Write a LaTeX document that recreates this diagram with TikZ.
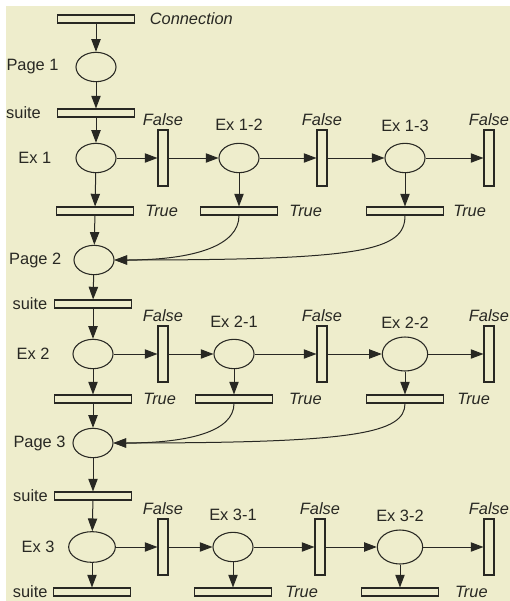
\documentclass[tikz,border=0pt]{standalone}
\usepackage{fontspec}
\setmainfont{Liberation Sans}
\usetikzlibrary{positioning, arrows.meta, shapes}
\definecolor{paper}{RGB}{238,237,204}
\definecolor{ink}{RGB}{40,40,35}

\begin{document}
\begin{tikzpicture}[x=0.75pt, y=-0.75pt,
    font=\fontsize{12.3}{14}\selectfont,
    every label/.style={inner sep=0pt, text=ink},
    tag/.style={font=\fontsize{12.3}{14}\selectfont\itshape},
    place/.style={ellipse, draw=ink, line width=0.8pt, minimum width=30pt, minimum height=22pt, inner sep=0pt},
    bigplace/.style={place, minimum width=34pt, minimum height=25.5pt},
    hbar/.style={rectangle, draw=ink, fill=paper, line width=0.8pt, minimum width=57.5pt, minimum height=6pt, inner sep=0pt},
    vbar/.style={rectangle, draw=ink, fill=paper, line width=0.8pt, minimum width=7.5pt, minimum height=42pt, inner sep=0pt},
    falsebar/.style={vbar, label={[tag, label distance=2.5pt]above:False}},
    truebar/.style={hbar, label={[tag, label distance=#1]right:True}},
    truebar/.default=8.5pt,
    suitebar/.style={hbar, label={[label distance=#1]left:suite}},
    suitebar/.default=4.5pt,
    arc/.style={draw=ink, line width=0.75pt, -{Triangle[length=9.5pt, width=7pt]}}]

    % paper
    \fill[white] (0,0) rectangle (510,601);
    \fill[paper] (6,6) rectangle (510,601);
    \useasboundingbox (0,0) rectangle (510,601);

    % connection and first page
    \node[hbar, label={[tag, label distance=11pt]right:Connection}] (conn) at (96,19) {};
    \node[place, label={[label distance=12.5pt]left:Page 1}] (page1) at (96,67) {};
    \node[suitebar=12pt] (suite1) at (96,113) {};

    % exercise 1
    \node[place, label={[label distance=18pt]left:Ex 1}] (ex1) at (96,158) {};
    \node[falsebar] (f11) at (163,158) {};
    \node[place, label={[label distance=9pt]above:Ex 1-2}] (ex12) at (239,158) {};
    \node[falsebar] (f12) at (322,158) {};
    \node[place, label={[label distance=8pt]above:Ex 1-3}] (ex13) at (405,158) {};
    \node[falsebar] (f13) at (489,158) {};
    \node[truebar] (t11) at (95,211) {};
    \node[truebar] (t12) at (239,211) {};
    \node[truebar=7pt] (t13) at (405,211) {};
    \node[place, label={[label distance=9pt]left:Page 2}] (page2) at (94,260) {};

    % exercise 2
    \node[suitebar=5pt] (suite2) at (93,304) {};
    \node[place, label={[label distance=17pt]left:Ex 2}] (ex2) at (93,354) {};
    \node[falsebar] (f21) at (163,354) {};
    \node[place, label={[label distance=8pt]above:Ex 2-1}] (ex21) at (234,354) {};
    \node[falsebar] (f22) at (322,354) {};
    \node[bigplace, label={[label distance=6pt]above:Ex 2-2}] (ex22) at (405,354) {};
    \node[falsebar] (f23) at (489,354) {};
    \node[truebar] (t21) at (93,399) {};
    \node[truebar=12pt] (t22) at (234,399) {};
    \node[truebar=10pt] (t23) at (405,399) {};
    \node[place, label={[label distance=5pt]left:Page 3}] (page3) at (93,443) {};

    % exercise 3
    \node[suitebar] (suite3) at (93,496) {};
    \node[place, minimum width=35pt, minimum height=23pt, label={[label distance=10pt]left:Ex 3}] (ex3) at (92,547) {};
    \node[falsebar] (f31) at (163,547) {};
    \node[place, label={[label distance=8pt]above:Ex 3-1}] (ex31) at (233,547) {};
    \node[falsebar] (f32) at (320,547) {};
    \node[bigplace, label={[label distance=6pt]above:Ex 3-2}] (ex32) at (400,547) {};
    \node[falsebar] (f33) at (489,547) {};
    \node[suitebar=4pt] (suite4) at (92,592) {};
    \node[truebar=10pt] (t32) at (233,592) {};
    \node[truebar=12pt] (t33) at (400,592) {};

    % main column
    \draw[arc] (conn) -- (page1);
    \draw[arc] (page1) -- (suite1);
    \draw[arc] (suite1) -- (ex1);
    \draw[arc] (ex1) -- (t11);
    \draw[arc] (t11) -- (page2);
    \draw[arc] (page2) -- (suite2);
    \draw[arc] (suite2) -- (ex2);
    \draw[arc] (ex2) -- (t21);
    \draw[arc] (t21) -- (page3);
    \draw[arc] (page3) -- (suite3);
    \draw[arc] (suite3) -- (ex3);
    \draw[arc] (ex3) -- (suite4);

    % false branches
    \draw[arc] (ex1) -- (f11);
    \draw[arc] (f11) -- (ex12);
    \draw[arc] (ex12) -- (f12);
    \draw[arc] (f12) -- (ex13);
    \draw[arc] (ex13) -- (f13);
    \draw[arc] (ex2) -- (f21);
    \draw[arc] (f21) -- (ex21);
    \draw[arc] (ex21) -- (f22);
    \draw[arc] (f22) -- (ex22);
    \draw[arc] (ex22) -- (f23);
    \draw[arc] (ex3) -- (f31);
    \draw[arc] (f31) -- (ex31);
    \draw[arc] (ex31) -- (f32);
    \draw[arc] (f32) -- (ex32);
    \draw[arc] (ex32) -- (f33);

    % true branches
    \draw[arc] (ex12) -- (t12);
    \draw[arc] (ex13) -- (t13);
    \draw[arc] (ex21) -- (t22);
    \draw[arc] (ex22) -- (t23);
    \draw[arc] (ex31) -- (t32);
    \draw[arc] (ex32) -- (t33);

    % back to the next page
    \draw[arc] (t12.south) .. controls +(0,30) and +(80,0) .. (page2.east);
    \draw[arc] (t13.south) .. controls +(0,35) and +(250,0) .. (page2.east);
    \draw[arc] (t22.south) .. controls +(0,28) and +(75,0) .. (page3.east);
    \draw[arc] (t23.south) .. controls +(0,30) and +(240,0) .. (page3.east);
\end{tikzpicture}
\end{document}
